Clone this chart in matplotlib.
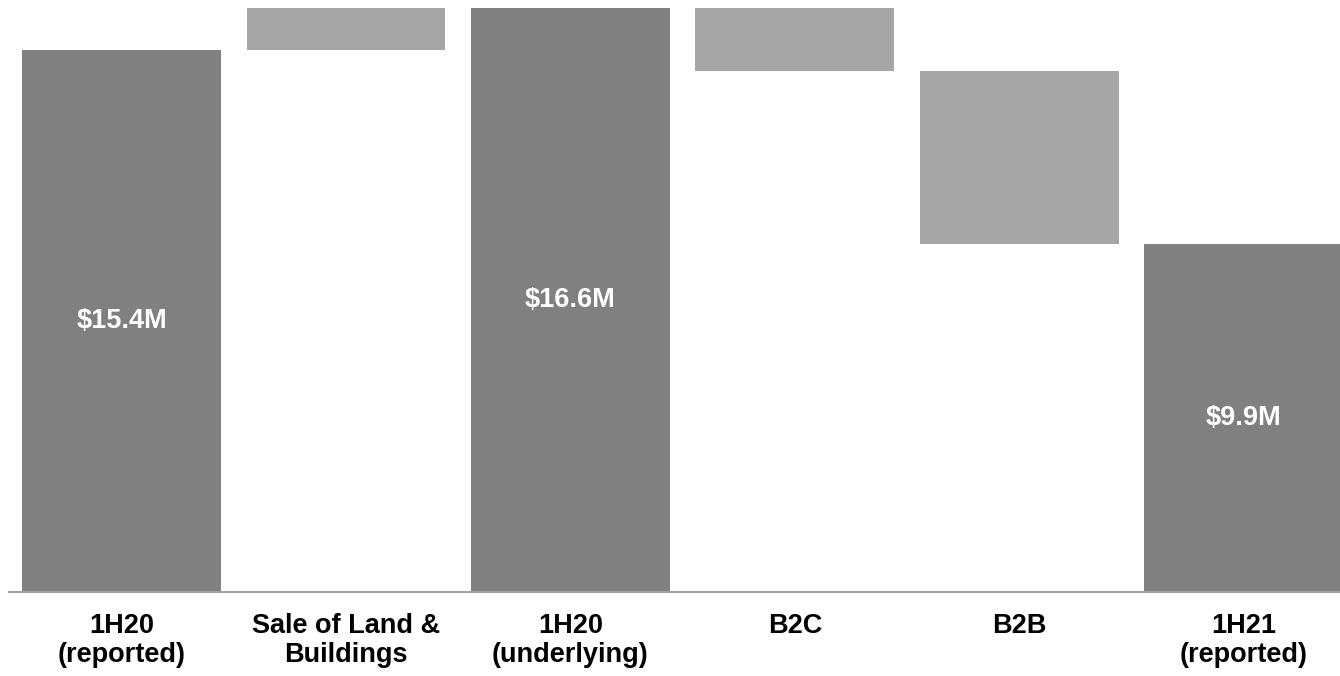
import matplotlib
matplotlib.use("Agg")
import matplotlib.pyplot as plt

categories = ["1H20\n(reported)", "Sale of Land &\nBuildings", "1H20\n(underlying)", "B2C", "B2B", "1H21\n(reported)"]
values = [15.4, 1.2, 16.6, -1.8, -4.9, 9.9]
kinds = ["total", "delta", "total", "delta", "delta", "total"]
value_labels = ["$15.4M", "", "$16.6M", "", "", "$9.9M"]

dark = "#808080"
light = "#a6a6a6"

plt.rcParams['font.family'] = ['Liberation Sans', 'DejaVu Sans']

fig = plt.figure(figsize=(13.40, 6.76), dpi=100)
ax = fig.add_axes([9/1340, 84/676, 1 - 9/1340, 584/676])

running = 0.0
for i, (v, k) in enumerate(zip(values, kinds)):
    if k == "total":
        ax.bar(i, v, width=0.886, bottom=0, color=dark, zorder=2)
        running = v
        if value_labels[i]:
            ax.text(i, v / 2, value_labels[i], ha="center", va="center",
                    color="white", fontsize=19.5, fontweight="bold")
    else:
        start = running
        end = running + v
        ax.bar(i, end - start, width=0.886, bottom=start, color=light, zorder=2)
        running = end

ax.set_xlim(-0.502, 5.43)
ax.set_ylim(0, 16.6)
ax.set_xticks(range(len(categories)))
ax.set_xticklabels(categories, fontsize=19.5, fontweight="bold", linespacing=1.15)
ax.tick_params(axis="x", length=0, pad=15)
ax.set_yticks([])
for s in ["top", "right", "left"]:
    ax.spines[s].set_visible(False)
ax.spines["bottom"].set_color("#a0a0a0")
ax.spines["bottom"].set_linewidth(1.5)
ax.spines["bottom"].set_zorder(3)

fig.savefig("out.png", dpi=100)
